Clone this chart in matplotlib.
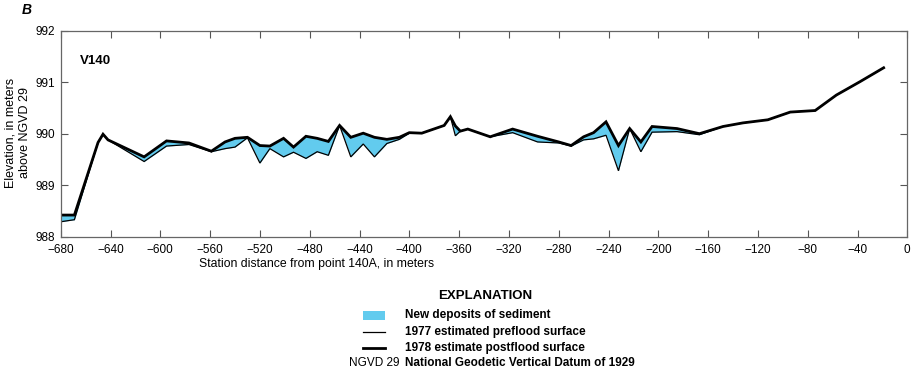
import numpy as np
import matplotlib
matplotlib.use('Agg')
import matplotlib.pyplot as plt
from matplotlib.lines import Line2D
from matplotlib.patches import Rectangle

plt.rcParams['font.family'] = ['Liberation Sans Narrow', 'Liberation Sans', 'DejaVu Sans']

# 测站位置 (m) 与两期地面高程 (m, NGVD 29)
station = [-680, -669, -650, -646, -642, -613, -595, -577, -559, -548, -540, -530,
           -520, -512, -501, -493, -483, -474, -465, -456, -447, -437, -428, -418,
           -408, -400, -390, -372, -367, -363, -359, -353, -335, -317, -297, -280,
           -270, -260, -252, -242, -232, -223, -214, -205, -185, -167, -148, -132,
           -112, -94, -74, -57, -38, -19]
post_1978 = [988.42, 988.42, 989.83, 989.99, 989.88, 989.55, 989.86, 989.82, 989.66, 989.84, 989.91, 989.93,
             989.77, 989.76, 989.91, 989.74, 989.95, 989.91, 989.85, 990.16, 989.93, 990.01, 989.93, 989.89,
             989.93, 990.02, 990.01, 990.16, 990.33, 990.15, 990.05, 990.09, 989.94, 990.09, 989.95, 989.84,
             989.77, 989.94, 990.02, 990.23, 989.77, 990.10, 989.84, 990.14, 990.10, 990.00, 990.14, 990.21,
             990.27, 990.42, 990.45, 990.75, 991.01, 991.28]
pre_1977 = [988.29, 988.33, 989.83, 989.99, 989.88, 989.46, 989.76, 989.79, 989.65, 989.71, 989.74, 989.92,
            989.43, 989.71, 989.55, 989.64, 989.52, 989.65, 989.58, 990.16, 989.55, 989.80, 989.55, 989.81,
            989.89, 990.01, 990.01, 990.16, 990.33, 989.96, 990.05, 990.09, 989.94, 990.02, 989.84, 989.82,
            989.76, 989.88, 989.90, 989.97, 989.28, 990.10, 989.65, 990.03, 990.04, 989.98, 990.14, 990.21,
            990.27, 990.42, 990.45, 990.75, 991.01, 991.28]

x_ticks = list(range(-680, 1, 40))
x_labels = ['\u2212%d' % abs(v) if v < 0 else '0' for v in x_ticks]
y_ticks = [988, 989, 990, 991, 992]

fill_color = '#62CBEE'
W, H = 912, 373

fig = plt.figure(figsize=(W / 100, H / 100), dpi=100)
ax = fig.add_axes([60.7 / W, 1 - 236.7 / H, (907.3 - 60.7) / W, (236.7 - 30.7) / H])

x = np.array(station)
post = np.array(post_1978)
pre = np.array(pre_1977)

ax.fill_between(x, pre, post, where=post >= pre, color=fill_color, linewidth=0, interpolate=True)
ax.plot(x, pre, color='black', linewidth=0.9, solid_joinstyle='miter')
ax.plot(x, post, color='black', linewidth=2.0, solid_joinstyle='miter')

ax.set_xlim(-680, 0)
ax.set_ylim(988, 992)
ax.set_xticks(x_ticks)
ax.set_xticklabels(x_labels)
ax.set_yticks(y_ticks)
ax.tick_params(direction='in', top=True, right=True, length=5, width=0.8,
               color='#555555', labelsize=8.5)
ax.tick_params(axis='x', pad=5)
ax.tick_params(axis='y', pad=4)
for sp in ax.spines.values():
    sp.set_color('#666666')
    sp.set_linewidth(0.9)

ax.text(-664.5, 991.42, 'V140', fontsize=9.5, fontweight='bold', va='center')

fig.text(22 / W, 1 - 10 / H, 'B', fontsize=10, fontweight='bold', style='italic', va='center', ha='left')
fig.text(18 / W, 1 - 133 / H, 'Elevation, in meters\nabove NGVD 29', rotation=90,
         fontsize=9, ha='center', va='center', linespacing=1.25)
fig.text(317 / W, 1 - 264 / H, 'Station distance from point 140A, in meters',
         fontsize=8.8, ha='center', va='center')

# 图例 (EXPLANATION)
fig.text(485 / W, 1 - 296 / H, 'EXPLANATION', fontsize=9.5, fontweight='bold', ha='center', va='center')
fig.add_artist(Rectangle((363 / W, 1 - 319.5 / H), 22 / W, 8.5 / H, transform=fig.transFigure,
                         facecolor=fill_color, edgecolor='none'))
fig.add_artist(Line2D([363 / W, 385 / W], [1 - 332 / H, 1 - 332 / H], transform=fig.transFigure,
                      color='black', linewidth=0.9))
fig.add_artist(Line2D([363 / W, 385 / W], [1 - 348 / H, 1 - 348 / H], transform=fig.transFigure,
                      color='black', linewidth=2.0))
legend_texts = ['New deposits of sediment', '1977 estimated preflood surface',
                '1978 estimate postflood surface', 'National Geodetic Vertical Datum of 1929']
legend_y = [315, 332, 348, 363]
for t, yy in zip(legend_texts, legend_y):
    fig.text(405 / W, 1 - yy / H, t, fontsize=8.5, fontweight='bold', ha='left', va='center')
fig.text(400 / W, 1 - 363 / H, 'NGVD 29', fontsize=8.5, ha='right', va='center')

fig.savefig('out.png', dpi=100)
